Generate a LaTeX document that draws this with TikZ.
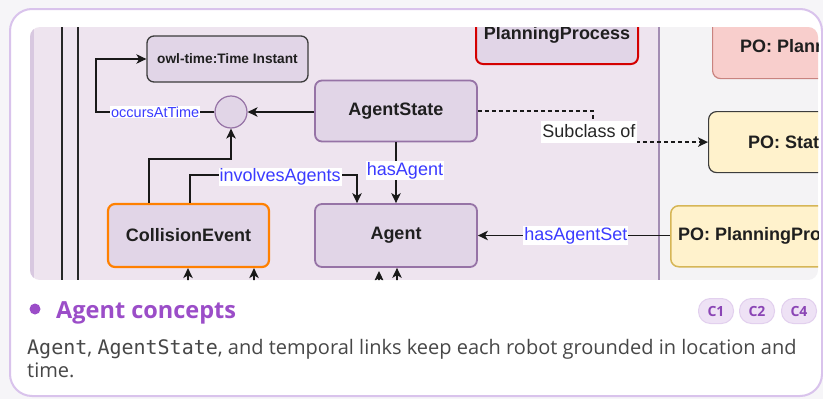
\documentclass[tikz,border=0pt]{standalone}
\usepackage{fontspec}
\setmainfont{Open Sans}
\newfontfamily\dia{Liberation Sans}
\newfontfamily\monof{DejaVu Sans Mono}
\usetikzlibrary{arrows.meta}
\definecolor{pagebg}{HTML}{F6F5F8}
\definecolor{cardborder}{HTML}{D9C3EC}
\definecolor{lanebg}{HTML}{EEE4EF}
\definecolor{graybg}{HTML}{F4F3F5}
\definecolor{leftband}{HTML}{D8C8E0}
\definecolor{sepline}{HTML}{A38DB3}
\definecolor{nodefill}{HTML}{E1D5E7}
\definecolor{nodeborder}{HTML}{9673A6}
\definecolor{timeborder}{HTML}{3C3C3C}
\definecolor{orangeb}{HTML}{FF8000}
\definecolor{redb}{HTML}{D40000}
\definecolor{pored}{HTML}{F8CECC}
\definecolor{poredb}{HTML}{C9837F}
\definecolor{poyel}{HTML}{FFF2CC}
\definecolor{poyelb}{HTML}{D6B656}
\definecolor{lblblue}{HTML}{3B3BFF}
\definecolor{titlec}{HTML}{9B4DC8}
\definecolor{bodytext}{HTML}{474747}
\definecolor{badgefill}{HTML}{EEE2F5}
\definecolor{badgeborder}{HTML}{E2D0EE}
\definecolor{badgetext}{HTML}{8A45B5}
\begin{document}
\begin{tikzpicture}[x=1pt,y=-1pt,
  cls/.style={rounded corners=7pt, draw=nodeborder, fill=nodefill, line width=1.8pt,
    font=\dia\bfseries\fontsize{18}{20}\selectfont, text=black!88, inner sep=0pt},
  pobox/.style={rounded corners=8pt, line width=1.2pt, inner sep=0pt},
  potext/.style={font=\dia\bfseries\fontsize{18}{20}\selectfont, text=black!88, inner sep=0pt},
  lbl/.style={fill=white, text=lblblue, font=\dia\fontsize{18}{20}\selectfont, inner sep=1pt},
  arr/.style={draw=black!90, line width=1.3pt, -{Stealth[length=10pt,width=9.5pt,inset=2.8pt]}},
  dasharr/.style={arr, dash pattern=on 4pt off 3pt},
  badge/.style={rounded corners=12pt, fill=badgefill, draw=badgeborder, line width=1pt,
    minimum width=35pt, minimum height=25pt, inner sep=0pt,
    font=\bfseries\fontsize{14}{15}\selectfont, text=badgetext}
]
\useasboundingbox (0,0) rectangle (823,399);
\fill[pagebg] (0,0) rectangle (823,399);
\draw[cardborder, line width=2pt, fill=white, rounded corners=22pt] (10,9) rectangle (822,396);
\begin{scope}
\clip[rounded corners=10pt] (30,27) rectangle (818,280);
\fill[lanebg] (30,27) rectangle (659,280);
\fill[graybg] (659,27) rectangle (818,280);
\fill[leftband] (30,27) rectangle (34,280);
\draw[black!85, line width=1.3pt] (62,27) -- (62,280);
\draw[black!85, line width=1.3pt] (78,27) -- (78,280);
\draw[sepline, line width=2pt] (659,27) -- (659,280);

% nodes
\node[cls, draw=timeborder, line width=1.3pt, minimum width=161pt, minimum height=46pt,
  font=\dia\bfseries\fontsize{13.7}{15}\selectfont] (timeinst) at (227.5,59) {owl-time:Time Instant};
\node[circle, draw=nodeborder, fill=nodefill, line width=1.2pt, minimum size=32pt, inner sep=0pt] (circ) at (231,112) {};
\node[cls, minimum width=162pt, minimum height=61pt] (agentstate) at (396,111) {AgentState};
\node[cls, minimum width=162pt, minimum height=63pt] (agent) at (396,235.5) {Agent};
\node[cls, draw=orangeb, line width=2.2pt, minimum width=161pt, minimum height=63pt] (collision) at (188.5,235.5) {CollisionEvent};
\node[cls, draw=redb, line width=2pt, minimum width=162pt, minimum height=59pt] (planning) at (557,34.5) {PlanningProcess};

\node[pobox, fill=pored, draw=poredb, minimum width=170pt, minimum height=64pt, anchor=north west] (poplan) at (712,14) {};
\node[potext, anchor=west] (poplant) at (740,46) {PO: Plann};
\node[pobox, fill=poyel, draw=timeborder, minimum width=170pt, minimum height=61pt, anchor=north west] (postat) at (708,111) {};
\node[potext, anchor=west] (postatt) at (748,142) {PO: Stat};
\node[pobox, fill=poyel, draw=poyelb, line width=1.5pt, minimum width=170pt, minimum height=61pt, anchor=north west] (popp) at (670,205) {};
\node[potext, anchor=west] (poppt) at (678,236) {PO: PlanningPro};

% connectors
\draw[arr] (agentstate.west |- circ.east) -- (circ.east);
\coordinate (occL) at (96,112);
\draw[arr] (circ.west) -- node[lbl, font=\dia\fontsize{14.5}{16}\selectfont]{occursAtTime} (occL) |- (timeinst.west);
\draw[arr] ([xshift=-39.5pt]collision.north) -- ++(0,-44) -| (circ.south);
\coordinate (agtin) at ([xshift=-39pt]agent.north);
\coordinate (iaY) at (0,175);
\draw[arr] ([xshift=1.5pt]collision.north) |- node[lbl, pos=0.77, yshift=-2pt]{involvesAgents} (agtin |- iaY) -- (agtin);
\draw[arr] (agentstate.south) -- node[lbl, xshift=9pt, yshift=2pt]{hasAgent} (agent.north);
\draw[arr] (popp.west |- agent.east) -- node[lbl, pos=0.49]{hasAgentSet} (agent.east);
\coordinate (scx) at (593,0);
\draw[dasharr] (agentstate.east) -| (scx |- postat.west) -- (postat.west);
\node[fill=white, text=black!85, font=\dia\fontsize{18}{20}\selectfont, inner sep=1pt, minimum height=22pt] (sublbl) at (589,131.5) {Subclass of};

% arrows from below
\coordinate (b1) at (188,285);
\coordinate (b2) at (254,285);
\coordinate (b3) at (379,285);
\coordinate (b3e) at (379,271);
\coordinate (b4) at (397,285);
\draw[arr] (b1) -- (b1 |- collision.south);
\draw[arr] (b2) -- (b2 |- collision.south);
\draw[arr] (b3) -- (b3e);
\draw[arr] (b4) -- (b4 |- agent.south);
\end{scope}

% caption
\fill[titlec] (35,309) circle (5.5);
\node[anchor=base west, inner sep=0pt, font=\bfseries\fontsize{23.5}{26}\selectfont, text=titlec] (title) at (56,318) {Agent concepts};
\node[badge] (c1) at (716,311) {C1};
\node[badge] (c2) at (757,311) {C2};
\node[badge] (c4) at (799,311) {C4};
\node[anchor=base west, inner sep=0pt, font=\fontsize{20}{24}\selectfont, text=bodytext] (body1) at (27,354)
  {{\monof Agent}, {\monof AgentState}, and temporal links keep each robot grounded in location and};
\node[anchor=base west, inner sep=0pt, font=\fontsize{20}{24}\selectfont, text=bodytext] (body2) at (27,377) {time.};
\end{tikzpicture}
\end{document}
